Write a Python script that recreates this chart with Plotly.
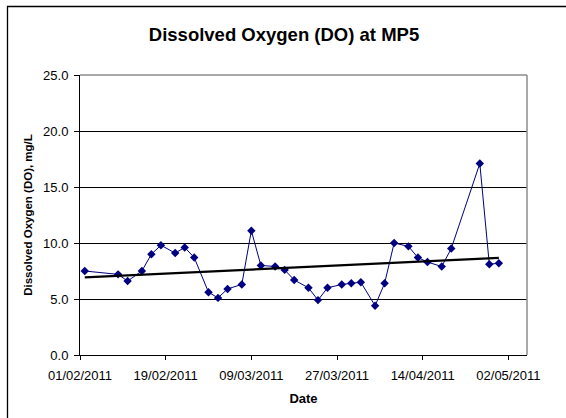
import numpy as np
import pandas as pd
import plotly.graph_objects as go

# Dissolved oxygen samples at monitoring point MP5
dates = ["2011-02-02", "2011-02-09", "2011-02-11", "2011-02-14", "2011-02-16",
         "2011-02-18", "2011-02-21", "2011-02-23", "2011-02-25", "2011-02-28",
         "2011-03-02", "2011-03-04", "2011-03-07", "2011-03-09", "2011-03-11",
         "2011-03-14", "2011-03-16", "2011-03-18", "2011-03-21", "2011-03-23",
         "2011-03-25", "2011-03-28", "2011-03-30", "2011-04-01", "2011-04-04",
         "2011-04-06", "2011-04-08", "2011-04-11", "2011-04-13", "2011-04-15",
         "2011-04-18", "2011-04-20", "2011-04-26", "2011-04-28", "2011-04-30"]
do_values = [7.5, 7.2, 6.6, 7.5, 9.0,
             9.8, 9.1, 9.6, 8.7, 5.6,
             5.1, 5.9, 6.3, 11.1, 8.0,
             7.9, 7.6, 6.7, 6.0, 4.9,
             6.0, 6.3, 6.4, 6.5, 4.4,
             6.4, 10.0, 9.7, 8.7, 8.3,
             7.9, 9.5, 17.1, 8.1, 8.2]
y_ticks = [0, 5, 10, 15, 20, 25]

dt = pd.to_datetime(dates)
days = (dt - dt[0]).days.to_numpy(dtype=float)

# Linear trend over the sampling period
slope, intercept = np.polyfit(days, do_values, 1)
trend_x = [dt[0], dt[-1]]
trend_y = [intercept, intercept + slope * days[-1]]

fig = go.Figure()
fig.add_trace(go.Scatter(
    x=dt, y=do_values, mode="lines+markers",
    line=dict(color="#000080", width=1),
    marker=dict(symbol="diamond", size=6.5, color="#000080"),
    showlegend=False,
))
fig.add_trace(go.Scatter(
    x=trend_x, y=trend_y, mode="lines",
    line=dict(color="black", width=2.2),
    showlegend=False,
))

W, H = 566, 418
ml, mr, mt, mb = 80, 39, 75, 63
pw, ph = W - ml - mr, H - mt - mb

def px_x(p):
    return (p - ml) / pw

def px_y(p):
    return (H - mb - p) / ph

shapes = [
    # chart frame
    dict(type="rect", xref="paper", yref="paper",
         x0=px_x(7.5), x1=px_x(580), y0=px_y(430), y1=px_y(6.5),
         line=dict(color="black", width=1.3), layer="below"),
    # plot-area border (top and right)
    dict(type="line", xref="paper", yref="paper", x0=0, x1=1, y0=1, y1=1,
         line=dict(color="#8c8c8c", width=1.5)),
    dict(type="line", xref="paper", yref="paper", x0=1, x1=1, y0=0, y1=1,
         line=dict(color="#8c8c8c", width=1.5)),
]

fig.update_layout(
    width=W, height=H,
    margin=dict(l=ml, r=mr, t=mt, b=mb, pad=0),
    paper_bgcolor="white", plot_bgcolor="white",
    font=dict(family="Liberation Sans, Arial, sans-serif", color="black", size=13),
    title=dict(text="<b>Dissolved Oxygen (DO) at MP5</b>",
               x=284 / W, xanchor="center", y=1 - 35 / H, yanchor="middle",
               font=dict(size=18.5, color="black")),
    shapes=shapes,
    xaxis=dict(
        type="date",
        range=["2011-02-01", "2011-05-05 22:00"],
        tick0="2011-02-01", dtick=18 * 86400000,
        tickformat="%d/%m/%Y",
        showgrid=False, zeroline=False,
        showline=True, linecolor="black", linewidth=1,
        ticks="outside", ticklen=4, tickcolor="black",
        ticklabelstandoff=4,
        tickfont=dict(size=13),
        title=dict(text="<b>Date</b>", font=dict(size=13), standoff=12),
    ),
    yaxis=dict(
        range=[0, 25], tickvals=y_ticks,
        ticktext=[f"{v:.1f}" for v in y_ticks],
        showgrid=True, gridcolor="black", gridwidth=1,
        zeroline=False,
        showline=True, linecolor="black", linewidth=1,
        ticks="outside", ticklen=5, tickcolor="black",
        ticklabelstandoff=3,
        tickfont=dict(size=13),
        title=dict(text="<b>Dissolved Oxygen (DO), mg/L</b>",
                   font=dict(size=11.5), standoff=8),
    ),
)

fig.write_html("out.html")
